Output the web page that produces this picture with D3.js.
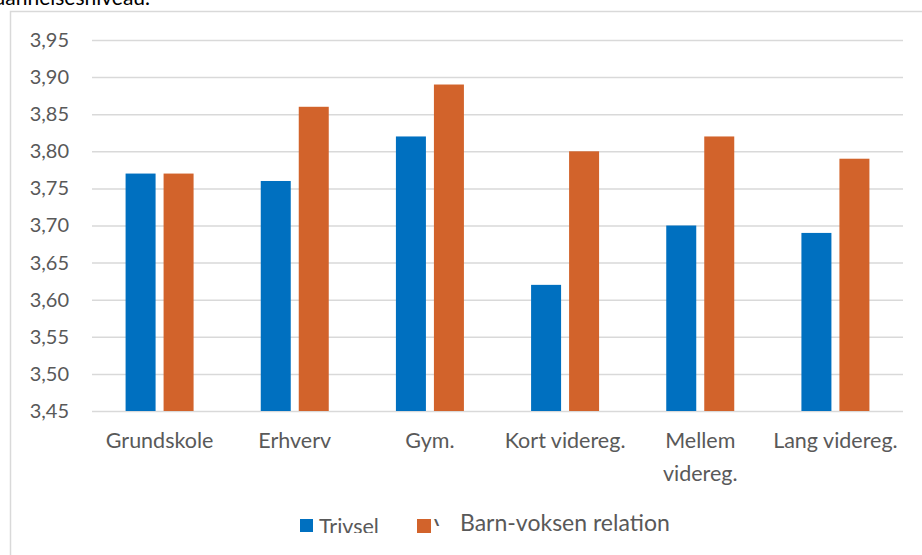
<!DOCTYPE html>
<html><head><meta charset="utf-8">
<script src="https://cdn.jsdelivr.net/npm/d3@7"></script>
<style>body{margin:0;background:#fff}svg{display:block;font-family:Lato,"Open Sans",sans-serif}</style>
</head><body>
<svg id="c" width="922" height="555"></svg>
<script>
const categories = ["Grundskole","Erhverv","Gym.","Kort videreg.","Mellem videreg.","Lang videreg."];
const categoryLines = [["Grundskole"],["Erhverv"],["Gym."],["Kort videreg."],["Mellem","videreg."],["Lang videreg."]];
const seriesNames = ["Trivsel","Barn-voksen relation"];
const trivsel = [3.77,3.76,3.82,3.62,3.70,3.69];
const barnVoksen = [3.77,3.86,3.89,3.80,3.82,3.79];
const yTicks = [3.45,3.50,3.55,3.60,3.65,3.70,3.75,3.80,3.85,3.90,3.95];
const colors = ["#0070C0","#D2632B"];

const svg = d3.select("#c");
const x = d3.scaleBand().domain(categories).range([92,903]).padding(0);
const xs = d3.scaleBand().domain(seriesNames).range([-34,34]).paddingInner(8/38).paddingOuter(0);
const y = d3.scaleLinear().domain([3.45,3.95]).range([411,40]);
const fmt = v => d3.format(".2f")(v).replace(".", ",");

// frame
svg.append("path").attr("d","M10.5,555 V11.5 H922").attr("fill","none").attr("stroke","#d9d9d9").attr("stroke-width",1.5);
// title fragment (cut off at top, as in the reference)
svg.append("text").attr("x",150).attr("y",5).attr("text-anchor","end").attr("font-size",21).attr("fill","#000").text("dannelsesniveau.");

// gridlines
const yAxis = d3.axisLeft(y).tickValues(yTicks).tickFormat(fmt).tickSize(-(903-92)).tickPadding(23);
const ga = svg.append("g").attr("transform","translate(92,0)").call(yAxis);
ga.select(".domain").remove();
ga.selectAll(".tick line").attr("stroke","#d9d9d9").attr("stroke-width",1.5);
ga.selectAll(".tick text").attr("fill","#595959").attr("font-size",20).attr("font-family","Lato");

// bars
const data = categories.map((c,i)=>({c, vals:[trivsel[i],barnVoksen[i]]}));
const g = svg.append("g").selectAll("g").data(data).join("g")
  .attr("transform", d=>`translate(${x(d.c)+x.bandwidth()/2},0)`);
g.selectAll("rect").data(d=>d.vals.map((v,j)=>({s:seriesNames[j],v,j}))).join("rect")
  .attr("x", d=>xs(d.s)).attr("width", xs.bandwidth())
  .attr("y", d=>y(d.v)).attr("height", d=>y(3.45)-y(d.v))
  .attr("fill", d=>colors[d.j]);

// x labels
const xl = svg.append("g").selectAll("text").data(categories).join("text")
  .attr("x", d=>x(d)+x.bandwidth()/2).attr("y",448).attr("text-anchor","middle")
  .attr("fill","#595959").attr("font-size",21.5);
xl.each(function(d,i){
  const t=d3.select(this);
  categoryLines[i].forEach((ln,k)=>t.append("tspan").attr("x",x(d)+x.bandwidth()/2).attr("dy",k?33:0).text(ln));
});

// legend
const defs = svg.append("defs");
defs.append("clipPath").attr("id","clipT").append("rect").attr("x",300).attr("y",500).attr("width",100).attr("height",33);
defs.append("clipPath").attr("id","clipV").append("rect").attr("x",432).attr("y",500).attr("width",8).attr("height",26);
svg.append("rect").attr("x",300).attr("y",519).attr("width",13).attr("height",13).attr("fill",colors[0]);
svg.append("text").attr("x",319).attr("y",534).attr("fill","#595959").attr("font-size",21.5).attr("clip-path","url(#clipT)").text(seriesNames[0]);
svg.append("rect").attr("x",417).attr("y",519).attr("width",14).attr("height",14).attr("fill",colors[1]);
svg.append("text").attr("x",434).attr("y",534).attr("fill","#595959").attr("font-size",21.5).attr("clip-path","url(#clipV)").text("V");
svg.append("text").attr("x",460).attr("y",531).attr("fill","#595959").attr("font-size",23).text(seriesNames[1]);
</script>
</body></html>
